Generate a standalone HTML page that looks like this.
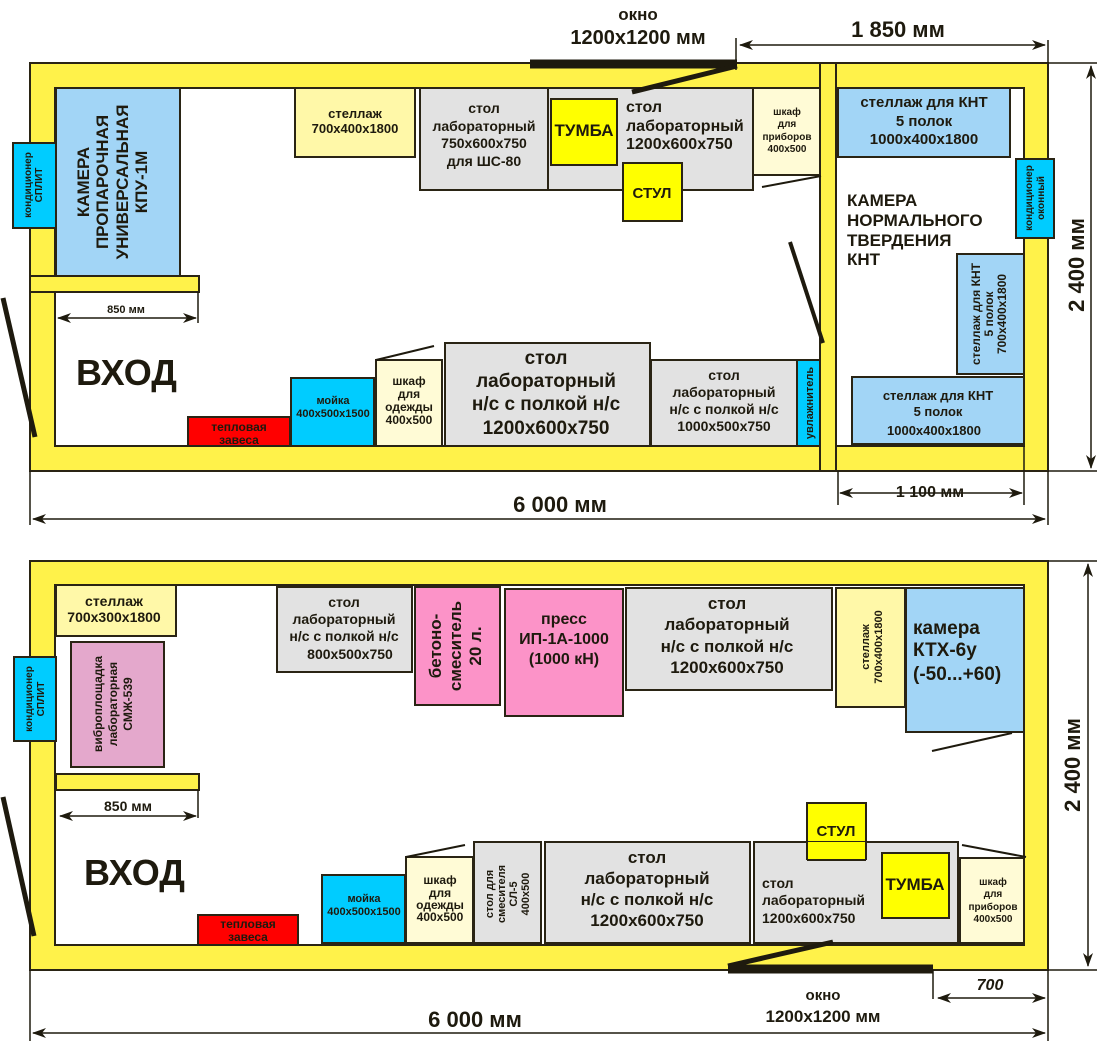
<!DOCTYPE html>
<html><head><meta charset="utf-8"><style>
html,body{margin:0;padding:0;background:#fff}
svg{display:block}
text{font-family:"Liberation Sans",sans-serif;font-weight:bold;fill:#1e1a0e}
</style></head><body>
<svg width="1098" height="1041" viewBox="0 0 1098 1041" xmlns="http://www.w3.org/2000/svg">
<defs>
<marker id="a" markerWidth="14" markerHeight="10" refX="13" refY="5" orient="auto-start-reverse" markerUnits="userSpaceOnUse"><path d="M0,0 L14,5 L0,10 L4,5z" fill="#1e1a0e"/></marker>
</defs>
<g stroke="#2a2414" stroke-width="2">
<!-- TOP PLAN -->
<rect x="30" y="63" width="1018" height="408" fill="#fff24a"/>
<rect x="55" y="88" width="765" height="358" fill="#fff"/>
<rect x="836" y="88" width="188" height="358" fill="#fff"/>
<rect x="30" y="276" width="169" height="16" fill="#fff24a"/>
<line x1="820" y1="63" x2="820" y2="471"/>
<line x1="836" y1="63" x2="836" y2="471"/>
<rect x="56" y="88" width="124" height="188" fill="#a2d5f6"/>
<rect x="13" y="143" width="43" height="85" fill="#00ccff"/>
<rect x="295" y="88" width="120" height="69" fill="#fff8a8"/>
<rect x="420" y="88" width="128" height="102" fill="#e2e2e2"/>
<rect x="548" y="88" width="205" height="102" fill="#e2e2e2"/>
<rect x="551" y="99" width="66" height="66" fill="#ffff00"/>
<rect x="623" y="163" width="59" height="58" fill="#ffff00"/>
<rect x="753" y="88" width="67" height="87" fill="#fffbd6"/>
<rect x="838" y="88" width="172" height="69" fill="#a2d5f6"/>
<rect x="1016" y="159" width="38" height="79" fill="#00ccff"/>
<rect x="957" y="254" width="67" height="120" fill="#a2d5f6"/>
<rect x="852" y="377" width="172" height="67" fill="#a2d5f6"/>
<rect x="797" y="360" width="23" height="86" fill="#00ccff"/>
<rect x="651" y="360" width="146" height="86" fill="#e2e2e2"/>
<rect x="445" y="343" width="205" height="103" fill="#e2e2e2"/>
<rect x="376" y="360" width="66" height="86" fill="#fffbd6"/>
<rect x="291" y="378" width="83" height="68" fill="#00ccff"/>
<rect x="188" y="417" width="102" height="29" fill="#ff0000"/>
</g>
<g stroke="#1e1a0e" fill="none">
<line x1="376" y1="360" x2="434" y2="346" stroke-width="2"/>
<line x1="762" y1="187" x2="821" y2="176" stroke-width="2"/>
<line x1="3" y1="298" x2="35" y2="437" stroke-width="5"/>
<line x1="790" y1="242" x2="823" y2="343" stroke-width="4"/>
<line x1="530" y1="64" x2="737" y2="64" stroke-width="9"/>
<polyline points="737,66 632,92" stroke-width="5"/>
<line x1="736" y1="38" x2="736" y2="70" stroke-width="1.5"/>
<line x1="740" y1="45" x2="1045" y2="45" stroke-width="1.5" marker-start="url(#a)" marker-end="url(#a)"/>
<line x1="1048" y1="40" x2="1048" y2="63" stroke-width="1.5"/>
<line x1="1048" y1="63" x2="1097" y2="63" stroke-width="1.5"/>
<line x1="1048" y1="471" x2="1097" y2="471" stroke-width="1.5"/>
<line x1="1091" y1="66" x2="1091" y2="468" stroke-width="1.5" marker-start="url(#a)" marker-end="url(#a)"/>
<line x1="198" y1="292" x2="198" y2="323" stroke-width="1.5"/>
<line x1="58" y1="318" x2="196" y2="318" stroke-width="1.5" marker-start="url(#a)" marker-end="url(#a)"/>
<line x1="838" y1="471" x2="838" y2="505" stroke-width="1.5"/>
<line x1="1024" y1="446" x2="1024" y2="505" stroke-width="1.5"/>
<line x1="840" y1="493" x2="1022" y2="493" stroke-width="1.5" marker-start="url(#a)" marker-end="url(#a)"/>
<line x1="30" y1="471" x2="30" y2="525" stroke-width="1.5"/>
<line x1="1048" y1="471" x2="1048" y2="525" stroke-width="1.5"/>
<line x1="33" y1="519" x2="1045" y2="519" stroke-width="1.5" marker-start="url(#a)" marker-end="url(#a)"/>
</g>
<!-- top texts -->
<text x="638" y="20" font-size="17" text-anchor="middle">окно</text>
<text x="638" y="44" font-size="20" text-anchor="middle">1200х1200 мм</text>
<text x="898" y="37" font-size="22" text-anchor="middle">1 850 мм</text>
<text x="930" y="497" font-size="16" text-anchor="middle">1 100 мм</text>
<text x="560" y="512" font-size="22" text-anchor="middle">6 000 мм</text>
<text transform="translate(1084,265) rotate(-90)" font-size="22" text-anchor="middle">2 400 мм</text>
<text x="126" y="313" font-size="11" text-anchor="middle">850 мм</text>
<text x="76" y="385" font-size="36">ВХОД</text>
<text transform="translate(35,185) rotate(-90)" font-size="10" font-weight="normal" text-anchor="middle"><tspan x="0" y="-4">кондиционер</tspan><tspan x="0" y="7">СПЛИТ</tspan></text>
<text transform="translate(118,182) rotate(-90)" font-size="17" text-anchor="middle"><tspan x="0" y="-29">КАМЕРА</tspan><tspan x="0" y="-10">ПРОПАРОЧНАЯ</tspan><tspan x="0" y="10">УНИВЕРСАЛЬНАЯ</tspan><tspan x="0" y="29">КПУ-1М</tspan></text>
<text font-size="13" text-anchor="middle"><tspan x="355" y="118">стеллаж</tspan><tspan x="355" y="133">700х400х1800</tspan></text>
<text font-size="14" text-anchor="middle"><tspan x="484" y="113">стол</tspan><tspan x="484" y="131">лабораторный</tspan><tspan x="484" y="148">750х600х750</tspan><tspan x="484" y="166">для ШС-80</tspan></text>
<text x="584" y="136" font-size="17" font-weight="normal" text-anchor="middle">ТУМБА</text>
<text font-size="16"><tspan x="626" y="112">стол</tspan><tspan x="626" y="131">лабораторный</tspan><tspan x="626" y="149">1200х600х750</tspan></text>
<text x="652" y="198" font-size="15" text-anchor="middle">СТУЛ</text>
<text font-size="10" font-weight="normal" text-anchor="middle"><tspan x="787" y="115">шкаф</tspan><tspan x="787" y="127">для</tspan><tspan x="787" y="140">приборов</tspan><tspan x="787" y="152">400х500</tspan></text>
<text font-size="15" text-anchor="middle"><tspan x="924" y="107">стеллаж для КНТ</tspan><tspan x="924" y="126">5 полок</tspan><tspan x="924" y="144">1000х400х1800</tspan></text>
<text transform="translate(1035,198) rotate(-90)" font-size="10" font-weight="normal" text-anchor="middle"><tspan x="0" y="-3">кондиционер</tspan><tspan x="0" y="9">оконный</tspan></text>
<text font-size="17"><tspan x="847" y="206">КАМЕРА</tspan><tspan x="847" y="226">НОРМАЛЬНОГО</tspan><tspan x="847" y="246">ТВЕРДЕНИЯ</tspan><tspan x="847" y="265">КНТ</tspan></text>
<text transform="translate(990,314) rotate(-90)" font-size="12" text-anchor="middle"><tspan x="0" y="-10">стеллаж для КНТ</tspan><tspan x="0" y="3">5 полок</tspan><tspan x="0" y="16">700х400х1800</tspan></text>
<text font-size="13" text-anchor="middle"><tspan x="938" y="400">стеллаж для КНТ</tspan><tspan x="938" y="416">5 полок</tspan><tspan x="934" y="435">1000х400х1800</tspan></text>
<text transform="translate(813,403) rotate(-90)" font-size="11" font-weight="normal" text-anchor="middle">увлажнитель</text>
<text font-size="14" text-anchor="middle"><tspan x="724" y="380">стол</tspan><tspan x="724" y="397">лабораторный</tspan><tspan x="724" y="414">н/с с полкой н/с</tspan><tspan x="724" y="431">1000х500х750</tspan></text>
<text font-size="19" text-anchor="middle"><tspan x="546" y="364">стол</tspan><tspan x="546" y="387">лабораторный</tspan><tspan x="546" y="410">н/с с полкой н/с</tspan><tspan x="546" y="434">1200х600х750</tspan></text>
<text font-size="12" text-anchor="middle"><tspan x="409" y="385">шкаф</tspan><tspan x="409" y="398">для</tspan><tspan x="409" y="411">одежды</tspan><tspan x="409" y="424">400х500</tspan></text>
<text font-size="11" text-anchor="middle"><tspan x="333" y="404">мойка</tspan><tspan x="333" y="417">400х500х1500</tspan></text>
<text font-size="12" text-anchor="middle" fill="#2a0a00"><tspan x="239" y="431">тепловая</tspan><tspan x="239" y="444">завеса</tspan></text>

<!-- BOTTOM PLAN -->
<g stroke="#2a2414" stroke-width="2">
<rect x="30" y="561" width="1018" height="409" fill="#fff24a"/>
<rect x="55" y="585" width="969" height="360" fill="#fff"/>
<rect x="56" y="774" width="143" height="16" fill="#fff24a"/>
<rect x="56" y="585" width="120" height="51" fill="#fff8a8"/>
<rect x="14" y="657" width="42" height="84" fill="#00ccff"/>
<rect x="71" y="642" width="93" height="125" fill="#e4a8cc"/>
<rect x="277" y="587" width="135" height="85" fill="#e2e2e2"/>
<rect x="415" y="587" width="85" height="118" fill="#fc93c8"/>
<rect x="505" y="589" width="118" height="127" fill="#fc93c8"/>
<rect x="626" y="588" width="206" height="102" fill="#e2e2e2"/>
<rect x="836" y="588" width="69" height="119" fill="#fff8a8"/>
<rect x="906" y="588" width="118" height="144" fill="#a2d5f6"/>
<rect x="807" y="803" width="59" height="57" fill="#ffff00"/>
<rect x="754" y="842" width="204" height="101" fill="#e2e2e2"/>
<rect x="882" y="853" width="67" height="65" fill="#ffff00"/>
<rect x="960" y="858" width="64" height="85" fill="#fffbd6"/>
<rect x="545" y="842" width="205" height="101" fill="#e2e2e2"/>
<rect x="474" y="842" width="67" height="101" fill="#e2e2e2"/>
<rect x="406" y="857" width="67" height="86" fill="#fffbd6"/>
<rect x="322" y="875" width="83" height="68" fill="#00ccff"/>
<rect x="198" y="915" width="100" height="30" fill="#ff0000"/>
</g>
<rect x="807" y="842" width="59" height="17" fill="#ffff00"/>
<line x1="807" y1="842" x2="807" y2="860" stroke="#2a2414" stroke-width="2"/>
<line x1="866" y1="842" x2="866" y2="860" stroke="#2a2414" stroke-width="2"/>
<line x1="807" y1="860" x2="866" y2="860" stroke="#2a2414" stroke-width="2"/>
<g stroke="#1e1a0e" fill="none">
<line x1="406" y1="857" x2="465" y2="845" stroke-width="2"/>
<line x1="932" y1="751" x2="1012" y2="733" stroke-width="2"/>
<line x1="962" y1="845" x2="1026" y2="857" stroke-width="2"/>
<line x1="3" y1="797" x2="34" y2="936" stroke-width="5"/>
<line x1="728" y1="969" x2="933" y2="969" stroke-width="9"/>
<polyline points="728,966 833,942" stroke-width="5"/>
<line x1="933" y1="970" x2="933" y2="999" stroke-width="1.5"/>
<line x1="938" y1="998" x2="1045" y2="998" stroke-width="1.5" marker-start="url(#a)" marker-end="url(#a)"/>
<line x1="1048" y1="561" x2="1097" y2="561" stroke-width="1.5"/>
<line x1="1048" y1="970" x2="1097" y2="970" stroke-width="1.5"/>
<line x1="1088" y1="564" x2="1088" y2="966" stroke-width="1.5" marker-start="url(#a)" marker-end="url(#a)"/>
<line x1="198" y1="790" x2="198" y2="818" stroke-width="1.5"/>
<line x1="60" y1="816" x2="196" y2="816" stroke-width="1.5" marker-start="url(#a)" marker-end="url(#a)"/>
<line x1="30" y1="970" x2="30" y2="1041" stroke-width="1.5"/>
<line x1="1048" y1="970" x2="1048" y2="1041" stroke-width="1.5"/>
<line x1="33" y1="1033" x2="1045" y2="1033" stroke-width="1.5" marker-start="url(#a)" marker-end="url(#a)"/>
</g>
<text x="823" y="1000" font-size="15" text-anchor="middle">окно</text>
<text x="823" y="1022" font-size="17" text-anchor="middle">1200х1200 мм</text>
<text x="990" y="990" font-size="16" font-weight="normal" font-style="italic" text-anchor="middle">700</text>
<text x="475" y="1027" font-size="22" text-anchor="middle">6 000 мм</text>
<text transform="translate(1080,765) rotate(-90)" font-size="22" text-anchor="middle">2 400 мм</text>
<text x="128" y="811" font-size="14" font-weight="normal" text-anchor="middle">850 мм</text>
<text x="84" y="885" font-size="36">ВХОД</text>
<text font-size="14" text-anchor="middle"><tspan x="114" y="606">стеллаж</tspan><tspan x="114" y="622">700х300х1800</tspan></text>
<text transform="translate(35,699) rotate(-90)" font-size="10" font-weight="normal" text-anchor="middle"><tspan x="0" y="-3">кондиционер</tspan><tspan x="0" y="9">СПЛИТ</tspan></text>
<text transform="translate(117,704) rotate(-90)" font-size="12" text-anchor="middle"><tspan x="0" y="-15">виброплощадка</tspan><tspan x="0" y="0">лабораторная</tspan><tspan x="0" y="15">СМЖ-539</tspan></text>
<text font-size="14" text-anchor="middle"><tspan x="344" y="607">стол</tspan><tspan x="344" y="624">лабораторный</tspan><tspan x="344" y="641">н/с с полкой н/с</tspan><tspan x="350" y="659">800х500х750</tspan></text>
<text transform="translate(458,646) rotate(-90)" font-size="17" text-anchor="middle"><tspan x="0" y="-17">бетоно-</tspan><tspan x="0" y="3">смеситель</tspan><tspan x="0" y="23">20 л.</tspan></text>
<text font-size="16" text-anchor="middle"><tspan x="564" y="624">пресс</tspan><tspan x="564" y="644">ИП-1А-1000</tspan><tspan x="564" y="664">(1000 кН)</tspan></text>
<text font-size="17" text-anchor="middle"><tspan x="727" y="609">стол</tspan><tspan x="727" y="630">лабораторный</tspan><tspan x="727" y="652">н/с с полкой н/с</tspan><tspan x="727" y="673">1200х600х750</tspan></text>
<text transform="translate(871,647) rotate(-90)" font-size="11" font-weight="normal" text-anchor="middle"><tspan x="0" y="-2">стеллаж</tspan><tspan x="0" y="11">700х400х1800</tspan></text>
<text font-size="19"><tspan x="913" y="634">камера</tspan><tspan x="913" y="656">КТХ-6у</tspan><tspan x="913" y="680">(-50...+60)</tspan></text>
<text x="836" y="836" font-size="15" text-anchor="middle">СТУЛ</text>
<text x="915" y="890" font-size="17" font-weight="normal" text-anchor="middle">ТУМБА</text>
<text font-size="14" font-weight="normal"><tspan x="762" y="888">стол</tspan><tspan x="762" y="905">лабораторный</tspan><tspan x="762" y="923">1200х600х750</tspan></text>
<text font-size="10" text-anchor="middle"><tspan x="993" y="885">шкаф</tspan><tspan x="993" y="897">для</tspan><tspan x="993" y="910">приборов</tspan><tspan x="993" y="922">400х500</tspan></text>
<text font-size="17" text-anchor="middle"><tspan x="647" y="863">стол</tspan><tspan x="647" y="884">лабораторный</tspan><tspan x="647" y="905">н/с с полкой н/с</tspan><tspan x="647" y="926">1200х600х750</tspan></text>
<text transform="translate(507,894) rotate(-90)" font-size="11" font-weight="normal" text-anchor="middle"><tspan x="0" y="-14">стол для</tspan><tspan x="0" y="-2">смесителя</tspan><tspan x="0" y="10">СЛ-5</tspan><tspan x="0" y="22">400х500</tspan></text>
<text font-size="12" text-anchor="middle"><tspan x="440" y="884">шкаф</tspan><tspan x="440" y="897">для</tspan><tspan x="440" y="909">одежды</tspan><tspan x="440" y="921">400х500</tspan></text>
<text font-size="11" text-anchor="middle"><tspan x="364" y="902">мойка</tspan><tspan x="364" y="915">400х500х1500</tspan></text>
<text font-size="12" text-anchor="middle" fill="#2a0a00"><tspan x="248" y="928">тепловая</tspan><tspan x="248" y="941">завеса</tspan></text>
</svg>
</body></html>
